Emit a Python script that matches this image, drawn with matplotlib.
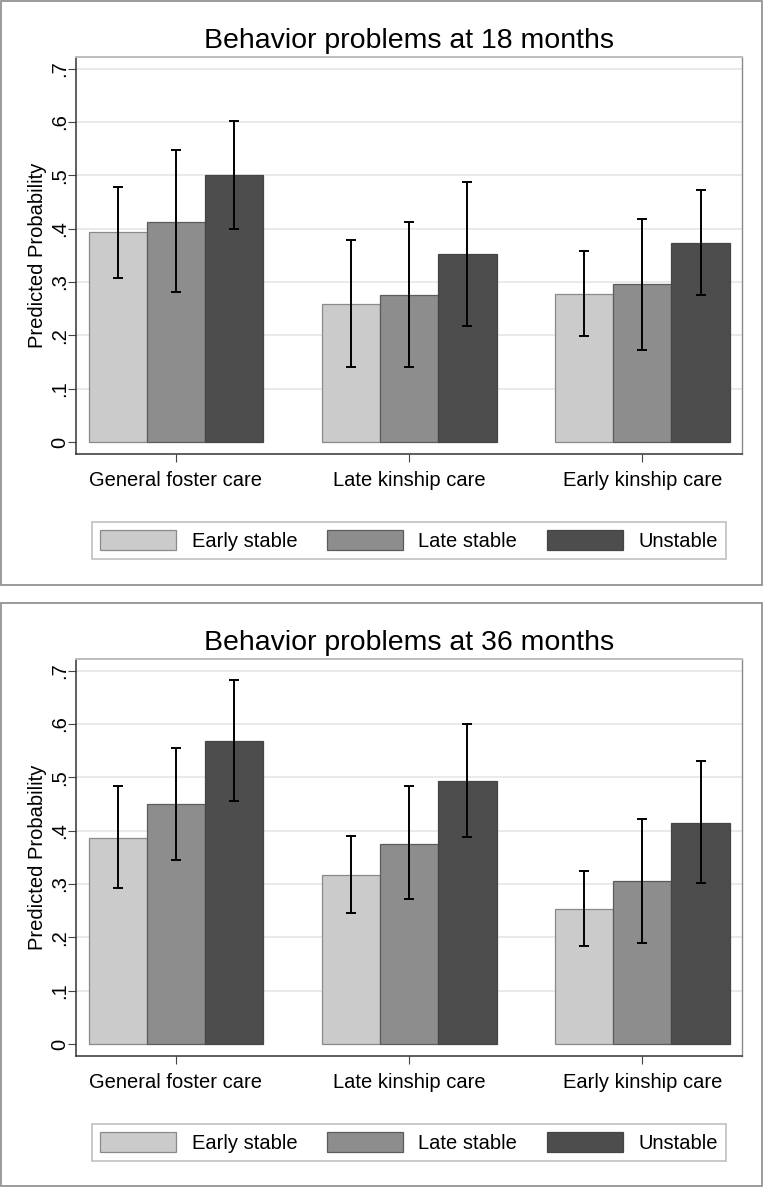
import matplotlib
matplotlib.use("Agg")
import matplotlib.pyplot as plt
from matplotlib.patches import Rectangle
import numpy as np

plt.rcParams['font.family'] = ['Liberation Sans', 'DejaVu Sans']

categories = ["General foster care", "Late kinship care", "Early kinship care"]
series = ["Early stable", "Late stable", "Unstable"]
yticks = [0, 0.1, 0.2, 0.3, 0.4, 0.5, 0.6, 0.7]
ytick_labels = ["0", ".1", ".2", ".3", ".4", ".5", ".6", ".7"]

# 18 months
early_18 = [0.393, 0.259, 0.278]
early_18_lo = [0.308, 0.141, 0.199]
early_18_hi = [0.478, 0.379, 0.358]
late_18 = [0.413, 0.276, 0.296]
late_18_lo = [0.281, 0.141, 0.172]
late_18_hi = [0.547, 0.412, 0.419]
unst_18 = [0.501, 0.353, 0.374]
unst_18_lo = [0.400, 0.218, 0.276]
unst_18_hi = [0.602, 0.488, 0.472]

# 36 months
early_36 = [0.387, 0.317, 0.253]
early_36_lo = [0.293, 0.245, 0.183]
early_36_hi = [0.483, 0.391, 0.325]
late_36 = [0.450, 0.376, 0.306]
late_36_lo = [0.345, 0.271, 0.189]
late_36_hi = [0.556, 0.484, 0.422]
unst_36 = [0.569, 0.493, 0.415]
unst_36_lo = [0.455, 0.388, 0.301]
unst_36_hi = [0.683, 0.601, 0.530]

fill_cols = ["#cbcbcb", "#8d8d8d", "#4d4d4d"]
edge_cols = ["#8a8a8a", "#5c5c5c", "#454545"]

W, H = 764, 1187
fig = plt.figure(figsize=(W / 100, H / 100), dpi=100)


def px_rect(left, top, right, bottom):
    return [left / W, 1 - bottom / H, (right - left) / W, (bottom - top) / H]


def panel(top_off, title, vals, los, his):
    ax = fig.add_axes(px_rect(76, 57 + top_off, 742, 454 + top_off))
    centers = np.arange(len(categories)) * 4.0
    for i in range(3):
        x = centers + (i - 1)
        v = np.array(vals[i])
        err = [v - np.array(los[i]), np.array(his[i]) - v]
        ax.bar(x, v, width=1.0, color=fill_cols[i], edgecolor=edge_cols[i],
               linewidth=0.9, label=series[i], zorder=2)
        ax.errorbar(x, v, yerr=err, fmt="none", ecolor="black",
                    elinewidth=1.4, capsize=3.3, capthick=1.4, zorder=3)
    ax.set_xlim(-1.715, 9.71)
    ax.set_ylim(-0.0225, 0.722)
    ax.set_xticks(centers)
    ax.set_xticklabels(categories, fontsize=14.5)
    ax.set_yticks(yticks)
    ax.set_yticklabels(ytick_labels, fontsize=14.5, rotation=90, va="center")
    for yv in yticks[1:]:
        ax.axhline(yv, color="#e8e8e8", lw=1.3, zorder=1)
    ax.tick_params(axis="y", length=5.5, width=0.8, color="#444444", pad=-0.5)
    ax.tick_params(axis="x", length=5.5, width=0.8, color="#444444", pad=6.8)
    ax.spines["left"].set_color("#333333")
    ax.spines["bottom"].set_color("#333333")
    ax.spines["left"].set_linewidth(1.1)
    ax.spines["bottom"].set_linewidth(1.1)
    ax.spines["top"].set_color("#bdbdbd")
    ax.spines["top"].set_linewidth(1.4)
    ax.spines["right"].set_color("#8a8a8a")
    ax.spines["right"].set_linewidth(1.0)
    ax.set_ylabel("Predicted Probability", fontsize=14.5)
    ax.yaxis.set_label_coords(-0.0435, 0.5)
    ax.set_title(title, fontsize=20.5, pad=6.5)
    leg = ax.legend(loc="center", bbox_to_anchor=(409 / W, 1 - (540.5 + top_off) / H),
                    bbox_transform=fig.transFigure, ncol=3, fontsize=14.5,
                    frameon=True, fancybox=False, edgecolor="#b0b0b0",
                    handlelength=3.78, handleheight=1.1, handletextpad=0.75,
                    columnspacing=1.48, borderpad=0.42)
    leg.get_frame().set_linewidth(1.2)
    return ax


panel(0, "Behavior problems at 18 months",
      [early_18, late_18, unst_18],
      [early_18_lo, late_18_lo, unst_18_lo],
      [early_18_hi, late_18_hi, unst_18_hi])
panel(602, "Behavior problems at 36 months",
      [early_36, late_36, unst_36],
      [early_36_lo, late_36_lo, unst_36_lo],
      [early_36_hi, late_36_hi, unst_36_hi])

# outer frames around each panel
for (t, b) in [(1, 585), (603, 1186)]:
    fig.patches.append(Rectangle((1 / W, 1 - b / H), 761 / W, (b - t) / H,
                                 transform=fig.transFigure, fill=False,
                                 edgecolor="#8a8a8a", linewidth=1.2))

fig.savefig("out.png", dpi=100, facecolor="white")
